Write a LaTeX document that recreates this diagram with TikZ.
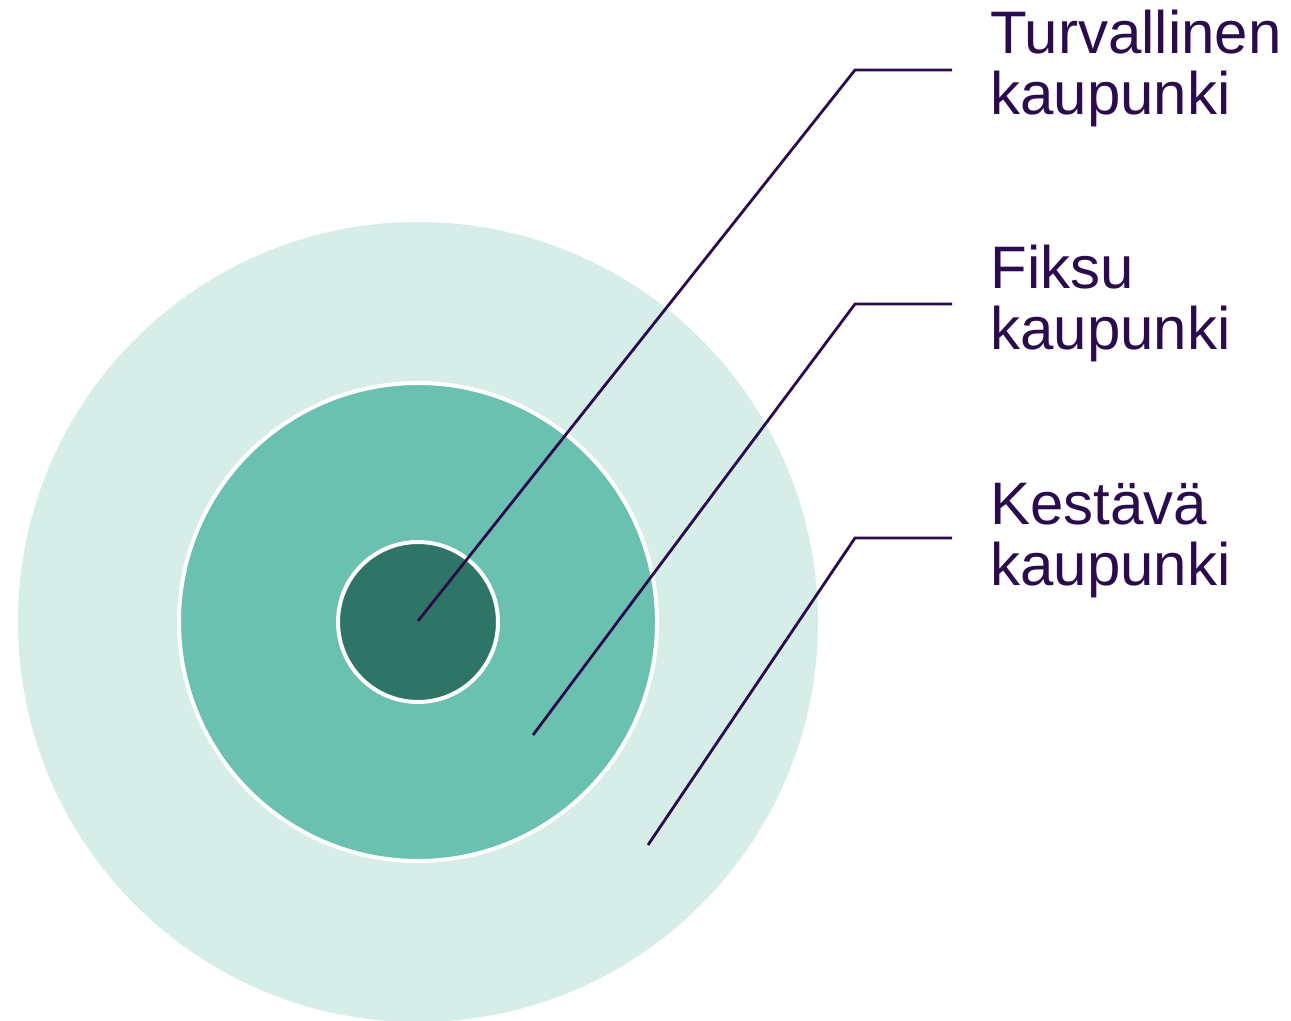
\documentclass[tikz,border=0pt]{standalone}
\usepackage{fontspec}
\setmainfont{Liberation Sans}
\definecolor{ringlight}{HTML}{D6EDE8}
\definecolor{ringmid}{HTML}{6AC1B0}
\definecolor{ringdark}{HTML}{2E7467}
\definecolor{labelpurple}{HTML}{2A0C4E}
\begin{document}
\begin{tikzpicture}[x=0.5pt, y=-0.5pt,
    ring/.style={circle, inner sep=0pt, draw=white, line width=2pt},
    lbl/.style={anchor=base west, inner sep=0pt, align=left, text=labelpurple,
      font=\fontsize{30}{30.5}\selectfont},
    leader/.style={draw=labelpurple, line width=1.4pt}]
  \useasboundingbox (0,0) rectangle (1291,1021);

  % 三个同心圆
  \node[ring, draw=none, fill=ringlight, minimum size=400pt] (outer) at (418,622) {};
  \node[ring, fill=ringmid, minimum size=239pt] (middle) at (418,622) {};
  \node[ring, fill=ringdark, minimum size=80pt] (inner) at (418,622) {};

  % 标签 (base = 第二行基线)
  \node[lbl] (lbl1) at (990,115) {Turvallinen\\kaupunki};
  \node[lbl] (lbl2) at (990,350) {Fiksu\\kaupunki};
  \node[lbl] (lbl3) at (990,585) {Kestävä\\kaupunki};

  % 引线
  \foreach \i/\sx/\sy/\ky in {1/418/621/70, 2/533/735/304, 3/648/845/538} {
    \coordinate (s\i) at (\sx,\sy);
    \coordinate (k\i) at (855,\ky);
    \coordinate (e\i) at (952,\ky);
    \draw[leader] (s\i) -- (k\i) -- (e\i);
  }
\end{tikzpicture}
\end{document}
